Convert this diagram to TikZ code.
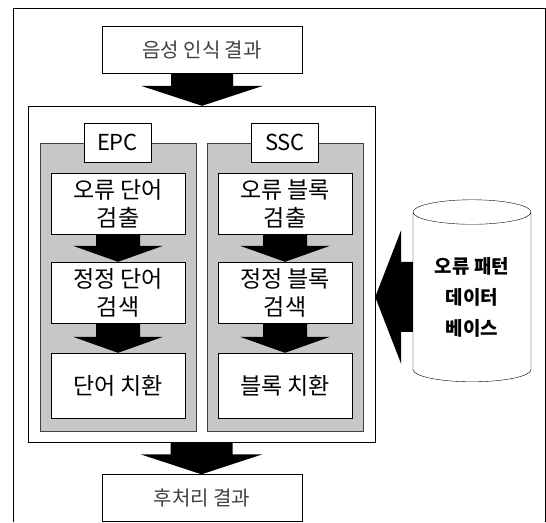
\documentclass[tikz,border=0pt]{standalone}
\usepackage{fontspec}
\setmainfont{Noto Sans CJK KR}
\usetikzlibrary{calc,shapes.geometric}
\tikzstyle{iobox}=[draw, fill=white, minimum width=200pt, minimum height=47pt, inner sep=0pt, text=black!75, font=\fontsize{20}{24}\selectfont]
\tikzstyle{outerbox}=[draw, minimum width=347pt, minimum height=336pt, inner sep=0pt]
\tikzstyle{panel}=[draw=black!75, fill=black!22, minimum width=156pt, minimum height=288pt, inner sep=0pt]
\tikzstyle{tagbox}=[draw, fill=white, minimum width=67pt, minimum height=39pt, inner sep=0pt, font=\fontsize{22}{26}\selectfont]
\tikzstyle{stepbox}=[draw, fill=white, minimum width=134pt, minimum height=61pt, inner sep=0pt, align=center, font=\fontsize{23}{28}\selectfont]
\tikzstyle{dbase}=[draw, cylinder, shape border rotate=90, aspect=0.33, minimum width=118pt, minimum height=182pt, inner sep=0pt, align=center, font=\bfseries\fontsize{19}{31}\selectfont]
% fat block arrows: from, to, half shaft, half head, head length
\newcommand{\fatdown}[5]{\fill let \p1=(#1), \p2=(#2) in
  (\x1-#3,\y1) -- (\x1+#3,\y1) -- (\x1+#3,\y2+#5) -- (\x1+#4,\y2+#5) -- (\x1,\y2)
  -- (\x1-#4,\y2+#5) -- (\x1-#3,\y2+#5) -- cycle;}
\newcommand{\fatleft}[5]{\fill let \p1=(#1), \p2=(#2) in
  (\x1,\y1+#3) -- (\x2+#5,\y1+#3) -- (\x2+#5,\y1+#4) -- (\x2,\y1) -- (\x2+#5,\y1-#4)
  -- (\x2+#5,\y1-#3) -- (\x1,\y1-#3) -- cycle;}

\begin{document}
\begin{tikzpicture}[x=1pt, y=-1pt]
  \useasboundingbox (0,0) rectangle (546,522);
  \draw (545,522) -- (545,8) -- (13,8) -- (13,522);

  \node[iobox] (input) at (202,50) {음성 인식 결과};
  \node[outerbox] (main) at (201.5,274) {};
  \node[panel] (epc) at (118,287) {};
  \node[panel] (ssc) at (285,287) {};
  \node[tagbox] (epctag) at (117.5,142.5) {EPC};
  \node[tagbox] (ssctag) at (285,142.5) {SSC};

  \node[stepbox] (e1) at (118,203.5) {오류 단어\\검출};
  \node[stepbox] (e2) at (118,292.5) {정정 단어\\검색};
  \node[stepbox, minimum height=65pt] (e3) at (118,385.5) {단어 치환};
  \node[stepbox] (s1) at (285,203.5) {오류 블록\\검출};
  \node[stepbox] (s2) at (285,292.5) {정정 블록\\검색};
  \node[stepbox, minimum height=65pt] (s3) at (285,385.5) {블록 치환};

  \node[iobox] (output) at (202,498) {후처리 결과};
  \node[dbase] (db) at (472,297) {오류 패턴\\데이터\\베이스};

  \fatdown{input.south}{main.north}{31pt}{61pt}{20pt}
  \fatdown{main.south}{output.north}{31pt}{61pt}{20pt}
  \fatdown{e1.south}{e2.north}{22pt}{45pt}{16pt}
  \fatdown{e2.south}{e3.north}{22pt}{45pt}{16pt}
  \fatdown{s1.south}{s2.north}{22pt}{45pt}{16pt}
  \fatdown{s2.south}{s3.north}{22pt}{45pt}{16pt}
  \fatleft{db.west}{main.east}{35pt}{67pt}{26pt}
\end{tikzpicture}
\end{document}
